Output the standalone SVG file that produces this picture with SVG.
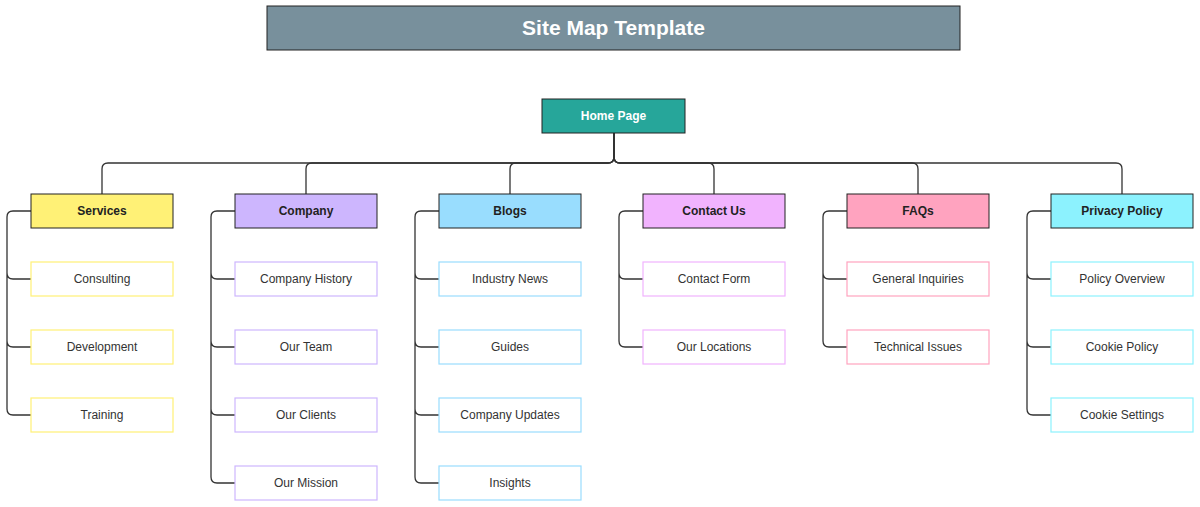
<svg xmlns="http://www.w3.org/2000/svg" width="1200" height="507" viewBox="0 0 1200 507">
<style>
text{font-family:"Liberation Sans",Arial,sans-serif;text-anchor:middle;dominant-baseline:central}
.t{font-size:21px;font-weight:bold;fill:#fff}
.h{font-size:12px;font-weight:bold;fill:#fff}
.c{font-size:12px;font-weight:bold;fill:#222}
.s{font-size:12px;fill:#333}
.cat{stroke:#222;stroke-width:1}
.sub{fill:#fff;stroke-width:1.2}
.ln{fill:none;stroke:#333;stroke-width:1.3}
</style>
<rect width="1200" height="507" fill="#fff"/>
<g id="title"><rect x="267" y="6" width="693" height="44" fill="#78909C" stroke="#222"/><text class="t" x="613.5" y="27">Site Map Template</text></g>
<g id="connectors">
<path class="ln" d="M614,133V157Q614,163 608,163H108Q102,163 102,169V194"/>
<path class="ln" d="M614,133V157Q614,163 608,163H312Q306,163 306,169V194"/>
<path class="ln" d="M614,133V157Q614,163 608,163H516Q510,163 510,169V194"/>
<path class="ln" d="M614,133V157Q614,163 620,163H708Q714,163 714,169V194"/>
<path class="ln" d="M614,133V157Q614,163 620,163H912Q918,163 918,169V194"/>
<path class="ln" d="M614,133V157Q614,163 620,163H1116Q1122,163 1122,169V194"/>
<path class="ln" d="M31,211H13Q7,211 7,217V273Q7,279 13,279H31M7,273V341Q7,347 13,347H31M7,341V409Q7,415 13,415H31"/>
<path class="ln" d="M235,211H217Q211,211 211,217V273Q211,279 217,279H235M211,273V341Q211,347 217,347H235M211,341V409Q211,415 217,415H235M211,409V477Q211,483 217,483H235"/>
<path class="ln" d="M439,211H421Q415,211 415,217V273Q415,279 421,279H439M415,273V341Q415,347 421,347H439M415,341V409Q415,415 421,415H439M415,409V477Q415,483 421,483H439"/>
<path class="ln" d="M643,211H625Q619,211 619,217V273Q619,279 625,279H643M619,273V341Q619,347 625,347H643"/>
<path class="ln" d="M847,211H829Q823,211 823,217V273Q823,279 829,279H847M823,273V341Q823,347 829,347H847"/>
<path class="ln" d="M1051,211H1033Q1027,211 1027,217V273Q1027,279 1033,279H1051M1027,273V341Q1027,347 1033,347H1051M1027,341V409Q1027,415 1033,415H1051"/>
</g>
<g id="home"><rect x="542" y="99" width="143" height="34" fill="#26A69A" stroke="#222"/><text class="h" x="613.5" y="115.5">Home Page</text></g>
<g id="services"><rect class="cat" x="31" y="194" width="142" height="34" fill="#FFF176"/><text class="c" x="102" y="210.5">Services</text></g>
<g id="consulting"><rect class="sub" x="31" y="262" width="142" height="34" stroke="#FFF176"/><text class="s" x="102" y="278.5">Consulting</text></g>
<g id="development"><rect class="sub" x="31" y="330" width="142" height="34" stroke="#FFF176"/><text class="s" x="102" y="346.5">Development</text></g>
<g id="training"><rect class="sub" x="31" y="398" width="142" height="34" stroke="#FFF176"/><text class="s" x="102" y="414.5">Training</text></g>
<g id="company"><rect class="cat" x="235" y="194" width="142" height="34" fill="#CDB6FE"/><text class="c" x="306" y="210.5">Company</text></g>
<g id="history"><rect class="sub" x="235" y="262" width="142" height="34" stroke="#CDB6FE"/><text class="s" x="306" y="278.5">Company History</text></g>
<g id="team"><rect class="sub" x="235" y="330" width="142" height="34" stroke="#CDB6FE"/><text class="s" x="306" y="346.5">Our Team</text></g>
<g id="clients"><rect class="sub" x="235" y="398" width="142" height="34" stroke="#CDB6FE"/><text class="s" x="306" y="414.5">Our Clients</text></g>
<g id="mission"><rect class="sub" x="235" y="466" width="142" height="34" stroke="#CDB6FE"/><text class="s" x="306" y="482.5">Our Mission</text></g>
<g id="blogs"><rect class="cat" x="439" y="194" width="142" height="34" fill="#99DDFE"/><text class="c" x="510" y="210.5">Blogs</text></g>
<g id="news"><rect class="sub" x="439" y="262" width="142" height="34" stroke="#99DDFE"/><text class="s" x="510" y="278.5">Industry News</text></g>
<g id="guides"><rect class="sub" x="439" y="330" width="142" height="34" stroke="#99DDFE"/><text class="s" x="510" y="346.5">Guides</text></g>
<g id="updates"><rect class="sub" x="439" y="398" width="142" height="34" stroke="#99DDFE"/><text class="s" x="510" y="414.5">Company Updates</text></g>
<g id="insights"><rect class="sub" x="439" y="466" width="142" height="34" stroke="#99DDFE"/><text class="s" x="510" y="482.5">Insights</text></g>
<g id="contact"><rect class="cat" x="643" y="194" width="142" height="34" fill="#F1B3FE"/><text class="c" x="714" y="210.5">Contact Us</text></g>
<g id="form"><rect class="sub" x="643" y="262" width="142" height="34" stroke="#F1B3FE"/><text class="s" x="714" y="278.5">Contact Form</text></g>
<g id="locations"><rect class="sub" x="643" y="330" width="142" height="34" stroke="#F1B3FE"/><text class="s" x="714" y="346.5">Our Locations</text></g>
<g id="faqs"><rect class="cat" x="847" y="194" width="142" height="34" fill="#FFA3BF"/><text class="c" x="918" y="210.5">FAQs</text></g>
<g id="general"><rect class="sub" x="847" y="262" width="142" height="34" stroke="#FFA3BF"/><text class="s" x="918" y="278.5">General Inquiries</text></g>
<g id="technical"><rect class="sub" x="847" y="330" width="142" height="34" stroke="#FFA3BF"/><text class="s" x="918" y="346.5">Technical Issues</text></g>
<g id="privacy"><rect class="cat" x="1051" y="194" width="142" height="34" fill="#8CF2FE"/><text class="c" x="1122" y="210.5">Privacy Policy</text></g>
<g id="overview"><rect class="sub" x="1051" y="262" width="142" height="34" stroke="#8CF2FE"/><text class="s" x="1122" y="278.5">Policy Overview</text></g>
<g id="cookie"><rect class="sub" x="1051" y="330" width="142" height="34" stroke="#8CF2FE"/><text class="s" x="1122" y="346.5">Cookie Policy</text></g>
<g id="settings"><rect class="sub" x="1051" y="398" width="142" height="34" stroke="#8CF2FE"/><text class="s" x="1122" y="414.5">Cookie Settings</text></g>
</svg>
